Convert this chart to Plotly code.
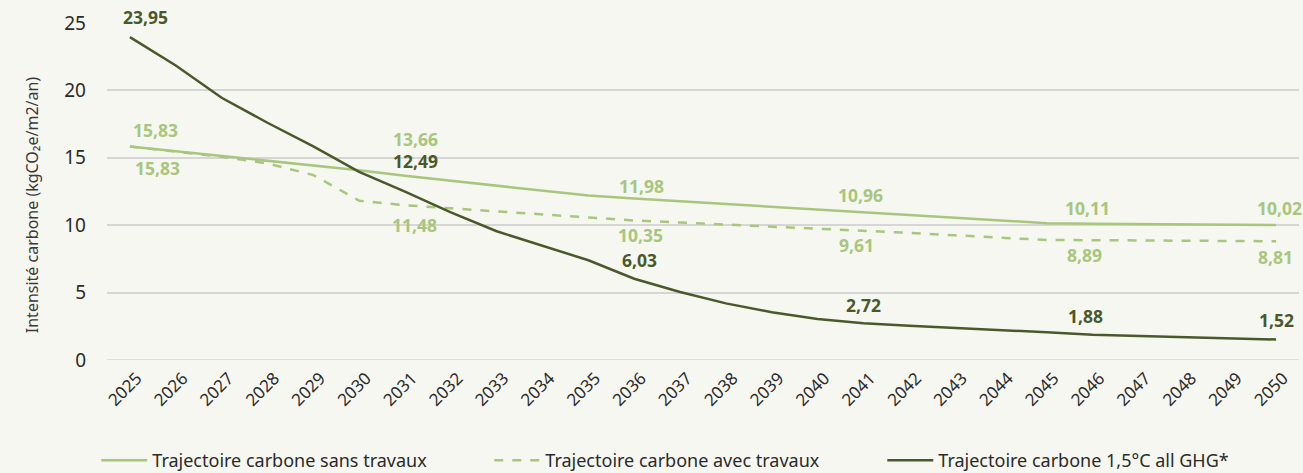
import plotly.graph_objects as go

# ---- data ----
years = [str(y) for y in range(2025, 2051)]

sans_travaux = [15.83, 15.48, 15.13, 14.78, 14.43, 14.08, 13.66, 13.29, 12.93, 12.56,
                12.20, 11.98, 11.78, 11.58, 11.37, 11.17, 10.96, 10.76, 10.56, 10.35,
                10.15, 10.11, 10.09, 10.06, 10.04, 10.02]

avec_travaux = [15.83, 15.48, 15.08, 14.58, 13.72, 11.82, 11.48, 11.25, 11.02, 10.78,
                10.55, 10.35, 10.20, 10.05, 9.90, 9.76, 9.61, 9.43, 9.25, 9.08,
                8.90, 8.89, 8.87, 8.85, 8.83, 8.81]

trajectoire_15 = [23.95, 21.85, 19.45, 17.60, 15.85, 13.95, 12.49, 10.95, 9.55, 8.50,
                  7.40, 6.03, 5.05, 4.20, 3.55, 3.05, 2.72, 2.55, 2.40, 2.25,
                  2.05, 1.88, 1.78, 1.68, 1.60, 1.52]

series_names = ["Trajectoire carbone sans travaux",
                "Trajectoire carbone avec travaux",
                "Trajectoire carbone 1,5°C all GHG*"]

label_years = ["2025", "2031", "2036", "2041", "2046", "2050"]

y_ticks = [0, 5, 10, 15, 20, 25]

# ---- styles ----
LIGHT = "#a8c67e"
DARK = "#4a582b"
BG = "#f6f7f0"
GRID = "#d6d6d6"
TXT = "#2b2b2b"
FONT = "Noto Sans"

# label pixel offsets (xshift, yshift) per series
off_sans = [(26, 17), (10, 37), (7, 13), (-3, 17), (-5, 16), (3, 17)]
off_avec = [(28, -21), (9, -20), (6, -15), (-7, -15), (-8, -15), (-1, -16)]
off_dark = [(16, 20), (10, 31), (5, 19), (0, 18), (-7, 19), (0, 20)]

fig = go.Figure()
fig.add_trace(go.Scatter(x=years, y=sans_travaux, mode="lines", name=series_names[0],
                         line=dict(color=LIGHT, width=2.5)))
fig.add_trace(go.Scatter(x=years, y=avec_travaux, mode="lines", name=series_names[1],
                         line=dict(color=LIGHT, width=2.5, dash="dash")))
fig.add_trace(go.Scatter(x=years, y=trajectoire_15, mode="lines", name=series_names[2],
                         line=dict(color=DARK, width=2.5)))


def fmt(v):
    return f"{v:.2f}".replace(".", ",")


annotations = []
for values, offs, color in [(sans_travaux, off_sans, LIGHT),
                            (avec_travaux, off_avec, LIGHT),
                            (trajectoire_15, off_dark, DARK)]:
    for yr, (dx, dy) in zip(label_years, offs):
        i = years.index(yr)
        v = values[i]
        annotations.append(dict(x=i, y=v, xref="x", yref="y", text=fmt(v),
                                showarrow=False, xanchor="center", yanchor="middle",
                                xshift=dx, yshift=dy,
                                font=dict(family=FONT, size=17.5, color=color, weight="bold")))

annotations.append(dict(x=-0.063, y=0.462, xref="paper", yref="paper",
                        text="Intensité carbone (kgCO₂e/m2/an)", textangle=-90,
                        showarrow=False, xanchor="center", yanchor="middle",
                        font=dict(family=FONT, size=16, color="#3a3a3a")))

fig.update_layout(
    width=1303, height=473,
    margin=dict(l=107, r=4, t=23, b=113, autoexpand=False),
    paper_bgcolor=BG, plot_bgcolor=BG,
    font=dict(family=FONT, color=TXT),
    showlegend=True,
    legend=dict(orientation="h", x=-0.009, xanchor="left", y=-0.298, yanchor="middle",
                font=dict(family=FONT, size=18, color=TXT), itemwidth=46,
                entrywidth=332, entrywidthmode="pixels", bgcolor="rgba(0,0,0,0)"),
    annotations=annotations,
    xaxis=dict(type="category", categoryorder="array", categoryarray=years,
               range=[-0.5, len(years) - 0.5], showgrid=False, zeroline=False,
               showline=False, tickangle=-45, ticks="", ticklabelshift=7,
               ticklabelstandoff=4, automargin=False,
               tickfont=dict(family=FONT, size=17, color=TXT)),
    yaxis=dict(range=[0, 25], tickvals=y_ticks, showgrid=True, gridcolor=GRID,
               gridwidth=1.5, zeroline=False, showline=False, ticks="",
               ticklabelstandoff=20, automargin=False,
               tickfont=dict(family=FONT, size=19, color=TXT)),
    shapes=[dict(type="line", xref="paper", yref="y", x0=0, x1=1, y0=0, y1=0,
                 line=dict(color=GRID, width=1.5), layer="below")],
)

fig.write_html("out.html", config={"displayModeBar": False},
               post_script="document.body.style.margin='0';document.body.style.background='%s';" % BG)
